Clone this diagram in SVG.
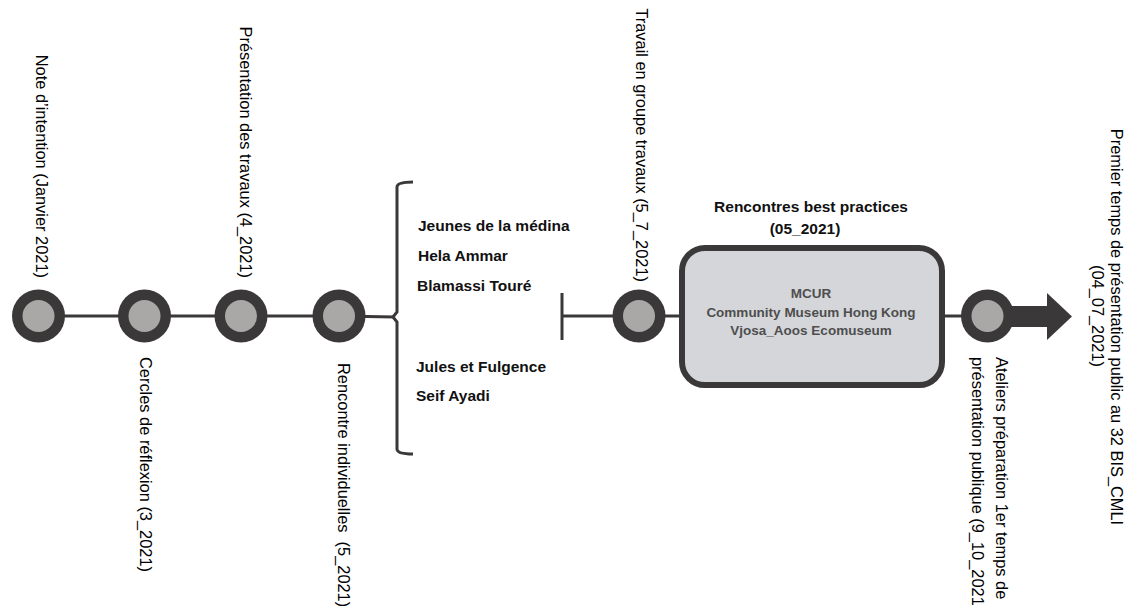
<svg xmlns="http://www.w3.org/2000/svg" width="1129" height="606" viewBox="0 0 1129 606">
<style>
.lbl{font-family:"Liberation Sans",Arial,sans-serif;font-size:16.4px;fill:#000}
.name{font-family:"Liberation Sans",Arial,sans-serif;font-size:15.5px;font-weight:bold;fill:#111}
.box{font-family:"Liberation Sans",Arial,sans-serif;font-size:13.5px;font-weight:bold;fill:#4e4e4e}
.ring{fill:#3a3838}
.core{fill:#aaa7a7}
.ln{stroke:#3a3838;stroke-width:3;fill:none}
</style>
<rect width="1129" height="606" fill="#ffffff"/>
<g id="connectors">
<line class="ln" x1="38" y1="316" x2="339" y2="316"/>
<line class="ln" x1="339" y1="316" x2="395" y2="317"/>
<path class="ln" d="M413,182 Q397,182 397,187 L397,312 L393,317 L397,322 L397,449 Q397,454 413,454"/>
<line class="ln" x1="562" y1="293" x2="562" y2="340"/>
<line class="ln" x1="562" y1="316" x2="682" y2="316"/>
<line class="ln" x1="942" y1="316" x2="987" y2="316"/>
<rect x="987" y="306" width="61" height="21" fill="#3a3838"/>
<polygon points="1047,293 1072,316.5 1047,340" fill="#3a3838"/>
</g>
<g id="n1">
<circle class="ring" cx="38.5" cy="316" r="26.5"/><circle class="core" cx="38.5" cy="316" r="16"/>
<text class="lbl" transform="translate(35.5,278) rotate(90)" text-anchor="end">Note d’intention (Janvier 2021)</text>
</g>
<g id="n2">
<circle class="ring" cx="144.5" cy="316" r="26.5"/><circle class="core" cx="144.5" cy="316" r="16"/>
<text class="lbl" transform="translate(140,357) rotate(90)">Cercles de réflexion (3_2021)</text>
</g>
<g id="n3">
<circle class="ring" cx="241" cy="316" r="26.5"/><circle class="core" cx="241" cy="316" r="16"/>
<text class="lbl" transform="translate(240,278) rotate(90)" text-anchor="end">Présentation des travaux (4_2021)</text>
</g>
<g id="n4">
<circle class="ring" cx="339" cy="316" r="26.5"/><circle class="core" cx="339" cy="316" r="16"/>
<text class="lbl" transform="translate(338,363) rotate(90)" xml:space="preserve">Rencontre individuelles  (5_2021)</text>
</g>
<g id="bracket-names">
<text class="name" x="418" y="231">Jeunes de la médina</text>
<text class="name" x="418" y="261">Hela Ammar</text>
<text class="name" x="417" y="291">Blamassi Touré</text>
<text class="name" x="416" y="372">Jules et Fulgence</text>
<text class="name" x="416" y="401">Seif Ayadi</text>
</g>
<g id="n5">
<circle class="ring" cx="639" cy="316" r="26.5"/><circle class="core" cx="639" cy="316" r="16"/>
<text class="lbl" transform="translate(635.5,282) rotate(90)" text-anchor="end">Travail en groupe travaux (5_7_2021)</text>
</g>
<g id="best-practices">
<text class="name" x="811" y="212" text-anchor="middle">Rencontres best practices</text>
<text class="name" x="805" y="234" text-anchor="middle">(05_2021)</text>
<rect x="682" y="248" width="260" height="137" rx="23" fill="#d5d6da" stroke="#3a3838" stroke-width="6"/>
<text class="box" x="811" y="298" text-anchor="middle">MCUR</text>
<text class="box" x="811" y="317" text-anchor="middle">Community Museum Hong Kong</text>
<text class="box" x="811" y="335" text-anchor="middle">Vjosa_Aoos Ecomuseum</text>
</g>
<g id="n6">
<circle class="ring" cx="987.5" cy="316" r="26.5"/><circle class="core" cx="987.5" cy="316" r="16"/>
<text class="lbl" transform="translate(996,357) rotate(90)">Ateliers préparation 1er temps de</text>
<text class="lbl" transform="translate(972,357) rotate(90)">présentation publique (9_10_2021)</text>
</g>
<g id="n7">
<text class="lbl" transform="translate(1111,327) rotate(90)" text-anchor="middle">Premier temps de présentation public au 32 BIS_CMLI</text>
<text class="lbl" transform="translate(1092,316) rotate(90)" text-anchor="middle">(04_07_2021)</text>
</g>
</svg>
